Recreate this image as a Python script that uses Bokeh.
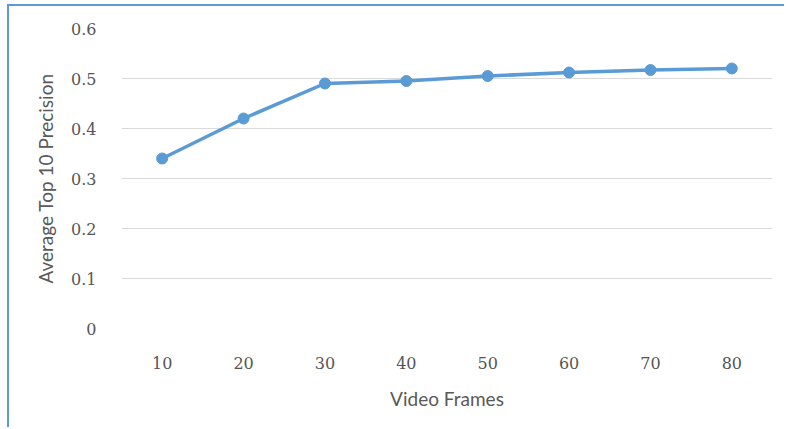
from bokeh.plotting import figure
from bokeh.embed import file_html
from bokeh.resources import INLINE
from bokeh.models import ColumnDataSource, FactorRange, Range1d, FixedTicker

frames = ["10", "20", "30", "40", "50", "60", "70", "80"]
precision = [0.34, 0.42, 0.49, 0.495, 0.505, 0.512, 0.517, 0.52]
y_ticks = [0, 0.1, 0.2, 0.3, 0.4, 0.5, 0.6]

src = ColumnDataSource(dict(x=frames, y=precision))

p = figure(width=777, height=423, x_range=FactorRange(*frames), y_range=Range1d(0, 0.6),
           output_backend="svg", toolbar_location=None,
           min_border_left=112, min_border_right=14, min_border_top=22, min_border_bottom=101)
p.margin = (4, 0, 0, 7)
p.styles = {"border-left": "2px solid #5b9bd5", "border-top": "2px solid #5b9bd5"}
p.outline_line_color = None
p.background_fill_color = "white"
p.border_fill_color = "white"

p.line("x", "y", source=src, line_color="#5b9bd5", line_width=3.5)
p.scatter("x", "y", source=src, size=11, fill_color="#5b9bd5", line_color="#5b9bd5")

p.xgrid.grid_line_color = None
p.ygrid.grid_line_color = "#d9d9d9"
p.ygrid.grid_line_width = 1
p.yaxis.ticker = FixedTicker(ticks=y_ticks)

for ax in (p.xaxis, p.yaxis):
    ax.axis_line_color = None
    ax.major_tick_line_color = None
    ax.minor_tick_line_color = None
    ax.major_label_text_color = "#555555"
    ax.major_label_text_font = "DejaVu Serif"
    ax.major_label_text_font_size = "16px"
    ax.axis_label_text_color = "#595959"
    ax.axis_label_text_font = "Lato"
    ax.axis_label_text_font_size = "19px"
    ax.axis_label_text_font_style = "normal"

p.xaxis.axis_label = "Video Frames"
p.yaxis.axis_label = "Average Top 10 Precision"
p.xaxis.major_label_standoff = 22
p.yaxis.major_label_standoff = 19
p.xaxis.axis_label_standoff = 15
p.yaxis.axis_label_standoff = 11

open("out.html", "w").write(file_html(p, INLINE))
